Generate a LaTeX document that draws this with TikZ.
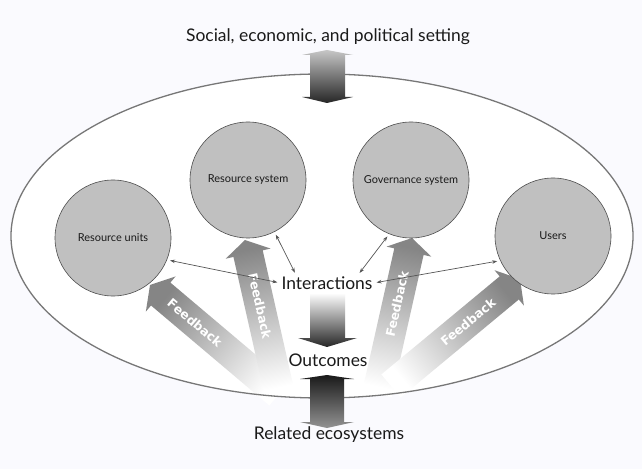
\documentclass[tikz,border=0pt]{standalone}
\usepackage{fontspec}
\setmainfont{Lato}
\newfontfamily\fbfont{DejaVu Sans}
\usetikzlibrary{calc,arrows.meta}
\definecolor{bgc}{HTML}{FAFAFE}
\definecolor{circfill}{HTML}{C0C0C0}
\definecolor{circline}{HTML}{4D4D4D}
\definecolor{ellline}{HTML}{777777}
\definecolor{fbgray}{HTML}{858585}
\definecolor{thinline}{HTML}{555555}
\definecolor{txt}{HTML}{1A1A1A}
\tikzset{
  comp/.style={circle, fill=circfill, draw=circline, line width=0.6bp, minimum size=116bp, inner sep=0pt, font=\fontsize{11}{13}\selectfont, text=txt},
  lbl/.style={font=\fontsize{17.5}{20}\selectfont, text=txt, inner sep=1bp},
  fbtext/.style={font=\fbfont\bfseries\fontsize{12.5}{14}\selectfont, text=white},
  link/.style={draw=thinline, line width=0.7bp, {Stealth[length=5bp,width=3.5bp]}-{Stealth[length=5bp,width=3.5bp]}, shorten <=3bp, shorten >=3bp},
}
\newcommand\fbarrow[3]{%
  \coordinate (fbb) at ($(#2)!14bp!(#1)$);
  \shade[bottom color=white, top color=fbgray, shading angle=#3]
    ($(#1)!15bp!90:(#2)$) -- ($(fbb)!15bp!90:(#2)$) -- ($(fbb)!23bp!90:(#2)$) -- (#2)
    -- ($(fbb)!23bp!-90:(#2)$) -- ($(fbb)!15bp!-90:(#2)$) -- ($(#1)!15bp!-90:(#2)$) -- cycle;
}
\begin{document}
\begin{tikzpicture}[x=1bp,y=-1bp]
\useasboundingbox (0,0) rectangle (642,469);
\fill[bgc] (0,0) rectangle (642,469);
\fill[white] (322,236) ellipse [x radius=311, y radius=162];

% feedback arrows
\coordinate (t1) at (279,394); \coordinate (h1) at (150,285);
\coordinate (t2) at (280,395); \coordinate (h2) at (245,240);
\coordinate (t3) at (377,394); \coordinate (h3) at (412,238);
\coordinate (t4) at (391,386); \coordinate (h4) at (520,279);
\fbarrow{t1}{h1}{49.8}
\fbarrow{t2}{h2}{12.7}
\fbarrow{t3}{h3}{-12.6}
\fbarrow{t4}{h4}{-50.3}
\node[fbtext, rotate=-40.2] (f1) at (195,323) {Feedback};
\node[fbtext, rotate=-77.3] (f2) at (260,306) {Feedback};
\node[fbtext, rotate=77.4] (f3) at (397,304) {Feedback};
\node[fbtext, rotate=39.7] (f4) at (468,322) {Feedback};

\draw[ellline, line width=1.3bp] (322,236) ellipse [x radius=311, y radius=162];

% block arrows
\shade[top color=gray!45, bottom color=black!85]
  (327,50) -- (353,55) -- (345,55) -- (345,97) -- (353,97) -- (327,103) -- (302,97) -- (310,97) -- (310,55) -- (302,55) -- cycle;
\shade[top color=white, bottom color=black!85]
  (310,293) -- (345,293) -- (345,338) -- (357,338) -- (327,347) -- (298,338) -- (310,338) -- cycle;
\shade[top color=black!90, bottom color=gray!85]
  (327,375) -- (354,379) -- (344,379) -- (344,422) -- (354,422) -- (327,428) -- (300,422) -- (310,422) -- (310,379) -- (300,379) -- cycle;

% components
\node[comp] (ru) at (113,238) {Resource units};
\node[comp] (rs) at (248,180) {Resource system};
\node[comp] (gs) at (411,180) {Governance system};
\node[comp] (us) at (553,236) {Users};

% labels
\node[lbl] (title) at (328,37) {Social, economic, and political setting};
\node[lbl] (int) at (327,283) {Interactions};
\node[lbl] (out) at (328,360) {Outcomes};
\node[lbl] (rel) at (329,435) {Related ecosystems};

% links
\draw[link] (ru.-22) -- (int.west);
\draw[link] (rs.-63) -- ($(int.north west)!0.17!(int.north east)$);
\draw[link] (gs.-112) -- ($(int.north west)!0.83!(int.north east)$);
\draw[link] (int.east) -- (us.205);
\end{tikzpicture}
\end{document}
